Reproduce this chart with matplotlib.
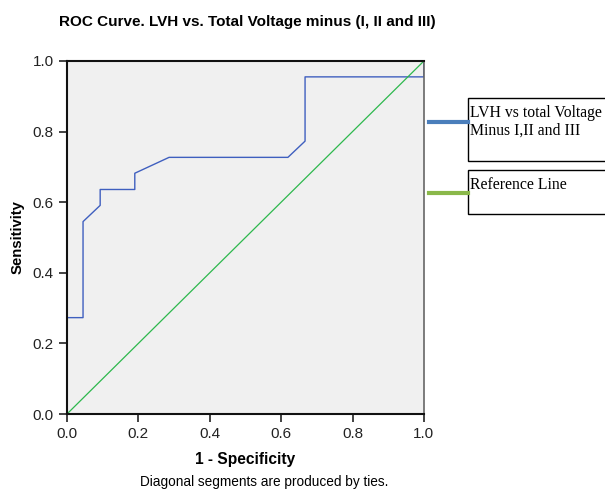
import matplotlib.pyplot as plt
from matplotlib.patches import Rectangle
from matplotlib.lines import Line2D

# ROC curve points (1 - specificity, sensitivity)
fpr = [0.0, 0.0, 0.045, 0.045, 0.093, 0.093, 0.19, 0.19, 0.286, 0.619, 0.667, 0.667, 1.0, 1.0]
tpr = [0.0, 0.273, 0.273, 0.545, 0.591, 0.636, 0.636, 0.682, 0.727, 0.727, 0.773, 0.955, 0.955, 1.0]
ref = [0.0, 1.0]

legend_labels = ['LVH vs total Voltage\nMinus I,II and III', 'Reference Line']
ticks = [0.0, 0.2, 0.4, 0.6, 0.8, 1.0]

plt.rcParams['font.family'] = ['Liberation Sans', 'DejaVu Sans']

fig = plt.figure(figsize=(6.05, 4.91), dpi=100)
ax = fig.add_axes([0.1107, 0.1568, 0.590, 0.719])
ax.set_facecolor('#f0f0f0')

ax.plot(fpr, tpr, color='#3f5fbf', lw=1.0)
ax.plot(ref, ref, color='#2db84d', lw=0.9)

ax.set_xlim(0, 1)
ax.set_ylim(0, 1)
ax.set_xticks(ticks)
ax.set_yticks(ticks)
ax.set_xticklabels([f'{t:.1f}' for t in ticks])
ax.set_yticklabels([f'{t:.1f}' for t in ticks])
ax.tick_params(direction='out', length=6, width=1.2, labelsize=11, colors='#222222')
for s in ['left', 'bottom', 'top']:
    ax.spines[s].set_linewidth(1.5)
    ax.spines[s].set_color('#111111')
ax.spines['right'].set_linewidth(1.2)
ax.spines['right'].set_color('#666666')

ax.set_xlabel('1 - Specificity', fontsize=11.2, fontweight='bold', labelpad=8)
ax.set_ylabel('Sensitivity', fontsize=10.7, fontweight='bold', labelpad=6)

fig.text(0.408, 0.955, 'ROC Curve. LVH vs. Total Voltage minus (I, II and III)',
         ha='center', va='center', fontsize=11, fontweight='bold')
fig.text(0.436, 0.018, 'Diagonal segments are produced by ties.',
         ha='center', va='center', fontsize=9.8)

# legend drawn as in SPSS output
boxes = [(0.774, 0.672, 0.3, 0.128), (0.774, 0.564, 0.3, 0.089)]
leg_colors = ['#4a7ebb', '#8ab84a']
line_y = [1 - 122 / 491, 1 - 193 / 491]
for (x0, y0, w, h), lab, c, ly in zip(boxes, legend_labels, leg_colors, line_y):
    fig.patches.append(Rectangle((x0, y0), w, h, transform=fig.transFigure,
                                 facecolor='white', edgecolor='black', lw=1.0))
    fig.lines.append(Line2D([0.709, 0.774], [ly, ly], transform=fig.transFigure,
                            color=c, lw=3))
    fig.text(x0 + 0.003, y0 + h - 0.014, lab, ha='left', va='top',
             fontsize=11.3, family=['Liberation Serif', 'DejaVu Serif'], linespacing=1.15)

fig.savefig('out.png', dpi=100)
